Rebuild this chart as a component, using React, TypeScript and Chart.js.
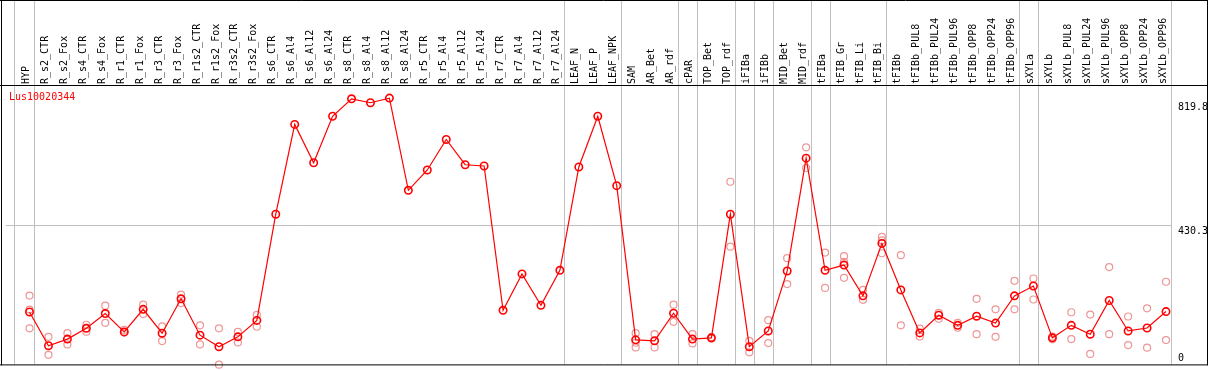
import React, { useEffect, useRef } from 'react';
import { Chart, registerables } from 'chart.js';

Chart.register(...registerables);

const geneId = 'Lus10020344';

const categories = [
  'HYP', 'R_s2_CTR', 'R_s2_Fox', 'R_s4_CTR', 'R_s4_Fox', 'R_r1_CTR', 'R_r1_Fox', 'R_r3_CTR', 'R_r3_Fox',
  'R_r1s2_CTR', 'R_r1s2_Fox', 'R_r3s2_CTR', 'R_r3s2_Fox', 'R_s6_CTR', 'R_s6_Al4', 'R_s6_Al12', 'R_s6_Al24',
  'R_s8_CTR', 'R_s8_Al4', 'R_s8_Al12', 'R_s8_Al24', 'R_r5_CTR', 'R_r5_Al4', 'R_r5_Al12', 'R_r5_Al24',
  'R_r7_CTR', 'R_r7_Al4', 'R_r7_Al12', 'R_r7_Al24', 'LEAF_N', 'LEAF_P', 'LEAF_NPK', 'SAM', 'AR_Bet', 'AR_rdf',
  'cPAR', 'TOP_Bet', 'TOP_rdf', 'iFIBa', 'iFIBb', 'MID_Bet', 'MID_rdf', 'tFIBa', 'tFIB_Gr', 'tFIB_Li', 'tFIB_Bi',
  'tFIBb', 'tFIBb_PUL8', 'tFIBb_PUL24', 'tFIBb_PUL96', 'tFIBb_OPP8', 'tFIBb_OPP24', 'tFIBb_OPP96', 'sXYLa',
  'sXYLb', 'sXYLb_PUL8', 'sXYLb_PUL24', 'sXYLb_PUL96', 'sXYLb_OPP8', 'sXYLb_OPP24', 'sXYLb_OPP96',
];

const means = [
  168.4, 65.6, 85.7, 118.7, 163.6, 107.6, 176.5, 103.7, 208.5, 97.7, 62.6, 92.6, 142.6,
  466.2, 739.8, 622.9, 764.6, 817.7, 805.7, 819.8, 539.0, 601.0, 693.9, 616.9, 613.0,
  173.5, 284.3, 188.5, 295.4, 610.0, 764.6, 553.1, 83.6, 80.6, 164.5, 85.7, 89.6, 466.2,
  62.6, 110.6, 293.3, 637.0, 295.4, 311.3, 217.5, 377.2, 235.5, 104.6, 158.5, 127.6, 155.5,
  134.5, 217.5, 247.5, 89.6, 127.6, 100.7, 203.4, 110.6, 119.5, 169.6,
];

const rep1 = [
  218.4, 92.6, 103.7, 129.4, 187.6, 113.6, 190.6, 124.6, 221.4, 127.6, 118.7, 107.6, 159.4,
  null, null, null, null, null, null, null, null, null, null, null, null, null, null, null, null,
  null, null, null, 103.7, 100.7, 190.6, 100.7, 92.0, 565.1, 80.6, 143.5, 332.3, 670.0, 349.4,
  338.3, 235.5, 397.3, 341.3, 117.5, 165.4, 135.4, 208.5, 176.5, 263.4, 270.3, 93.5, 167.5,
  160.6, 305.3, 154.6, 179.5, 260.4,
];

const rep2 = [
  175.6, 37.8, 69.5, 108.5, 135.4, 105.5, 162.4, 79.7, 195.4, 69.5, 7.8, 75.5, 123.4,
  null, null, null, null, null, null, null, null, null, null, null, null, null, null, null, null,
  null, null, null, 74.6, 60.5, 138.4, 72.5, 87.0, 367.3, 45.5, 73.7, 253.5, 607.0, 241.5,
  321.2, 205.5, 347.3, 127.6, 93.5, 147.4, 120.4, 100.7, 92.6, 176.5, 206.4, 85.1, 85.7,
  40.7, 100.7, 67.7, 59.6, 82.7,
];

const rep3 = [
  118.7, null, null, null, null, null, null, null, null, null, null, null, null,
  null, null, null, null, null, null, null, null, null, null, null, null, null, null, null, null,
  null, null, null, 60.5, null, null, null, null, null, null, null, null, null, null,
  272.4, null, 386.2, null, null, null, null, null, null, null, null, null, null,
  null, null, null, null, null,
];

// group separators, in category units
const separators = [-0.82, 0.24, 28.24, 31.24, 34.24, 35.24, 37.24, 38.24, 39.24, 41.24, 42.24, 45.24, 52.24, 53.24, 60.24];

const yLabelValues = [819.8, 430.3, 0];
const yLabelNudge = [12, 8, 8];
const yGridValues = [430.3];

const FONT = '"DejaVu Sans Mono", monospace';

function toPoints(arr: (number | null)[]) {
  return arr.map((v, i) => ({ x: i, y: v }));
}

const customPlugin = {
  id: 'customFrame',
  beforeDatasetsDraw(chart: any) {
    const { ctx, chartArea, scales } = chart;
    const x = scales.x;
    ctx.save();
    ctx.strokeStyle = '#c0c0c0';
    ctx.lineWidth = 1;
    separators.forEach((s) => {
      const px = Math.round(x.getPixelForValue(s)) + 0.5;
      ctx.beginPath();
      ctx.moveTo(px, 0);
      ctx.lineTo(px, chartArea.bottom);
      ctx.stroke();
    });
    ctx.restore();
  },
  afterDraw(chart: any) {
    const { ctx, chartArea, scales, width } = chart;
    const y = scales.y;
    ctx.save();
    ctx.font = '10px ' + FONT;
    ctx.fillStyle = '#ff0000';
    ctx.textBaseline = 'alphabetic';
    ctx.textAlign = 'left';
    ctx.fillText(geneId, 9, 100);
    ctx.fillStyle = '#000000';
    yLabelValues.forEach((v, i) => {
      let py = y.getPixelForValue(v) + yLabelNudge[i];
      if (py > chartArea.bottom - 3) py = chartArea.bottom - 3;
      ctx.fillText(String(v), chartArea.right + 7, py);
    });
    ctx.strokeStyle = '#000000';
    ctx.lineWidth = 1;
    const right = width - 1.5;
    ctx.beginPath();
    ctx.moveTo(0, 0.5); ctx.lineTo(right, 0.5);
    ctx.moveTo(0, chartArea.top - 0.5); ctx.lineTo(right, chartArea.top - 0.5);
    ctx.moveTo(0, chartArea.bottom + 0.5); ctx.lineTo(right, chartArea.bottom + 0.5);
    ctx.moveTo(1.5, 0); ctx.lineTo(1.5, chartArea.bottom + 1);
    ctx.moveTo(right, 0); ctx.lineTo(right, chartArea.bottom + 1);
    ctx.stroke();
    ctx.restore();
  },
};

export default function App() {
  const canvasRef = useRef<HTMLCanvasElement | null>(null);

  useEffect(() => {
    if (!canvasRef.current) return;
    const repStyle = {
      showLine: false,
      pointRadius: 3.5,
      pointBorderWidth: 1.2,
      pointBorderColor: 'rgb(238, 150, 150)',
      pointBackgroundColor: 'rgba(0,0,0,0)',
      pointStyle: 'circle',
      clip: false as any,
      order: 2,
    };
    const chart = new Chart(canvasRef.current, {
      type: 'line',
      data: {
        datasets: [
          {
            label: geneId,
            data: toPoints(means) as any,
            borderColor: '#ff0000',
            borderWidth: 1.2,
            pointRadius: 3.7,
            pointBorderWidth: 1.6,
            pointBorderColor: '#ff0000',
            pointBackgroundColor: 'rgba(0,0,0,0)',
            tension: 0,
            order: 0,
          },
          { label: 'rep1', data: toPoints(rep1) as any, ...repStyle },
          { label: 'rep2', data: toPoints(rep2) as any, ...repStyle },
          { label: 'rep3', data: toPoints(rep3) as any, ...repStyle },
        ],
      },
      options: {
        animation: false,
        responsive: true,
        maintainAspectRatio: false,
        layout: { padding: { left: 2, right: 2, top: 0, bottom: 1 } },
        plugins: { legend: { display: false }, tooltip: { enabled: false }, title: { display: false } },
        scales: {
          x: {
            type: 'linear',
            position: 'top',
            min: (2 - 26) / 19,
            max: (1171 - 26) / 19,
            grid: { display: false, drawTicks: false },
            border: { display: false },
            afterBuildTicks: (axis: any) => {
              axis.ticks = categories.map((_, i) => ({ value: i }));
            },
            afterFit: (axis: any) => {
              axis.height = 86;
            },
            ticks: {
              autoSkip: false,
              minRotation: 90,
              maxRotation: 90,
              padding: 2,
              labelOffset: 9,
              color: '#000000',
              font: { family: FONT, size: 10 },
              callback: (v: any) => categories[v] ?? '',
            },
          },
          y: {
            type: 'linear',
            position: 'right',
            min: 8.7,
            max: 856.7,
            afterBuildTicks: (axis: any) => {
              axis.ticks = yGridValues.map((v) => ({ value: v }));
            },
            afterFit: (axis: any) => {
              axis.width = 36;
            },
            grid: { color: '#c0c0c0', lineWidth: 1, drawTicks: false },
            border: { display: false },
            ticks: { display: false },
          },
        },
      },
      plugins: [customPlugin],
    });
    return () => chart.destroy();
  }, []);

  return (
    <div style={{ position: 'absolute', left: 0, top: 0, width: 1209, height: 370, background: '#ffffff' }}>
      <canvas ref={canvasRef} />
    </div>
  );
}
